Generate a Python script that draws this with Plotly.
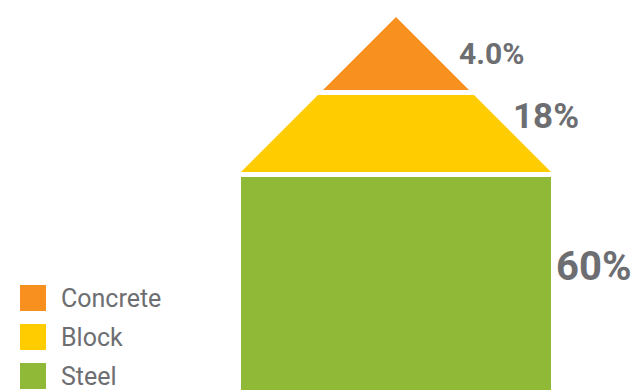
import plotly.graph_objects as go

# ---- data ----
categories = ["Concrete", "Block", "Steel"]
values = [4.0, 18, 60]
value_labels = ["4.0%", "18%", "60%"]
colors = ["#f7901e", "#ffcc00", "#8fb936"]

W, H = 634, 390
TEXT = "#6d6e71"
FONT = "Liberation Sans Narrow, Arial Narrow, Roboto, sans-serif"

# house geometry (pixel-like coordinate system)
cx = 396
apex = 17
layer_bounds = [(apex, 90), (95, 172), (177, 392)]  # top/bottom of each layer
half_body = 155

def layer_poly(i):
    top, bot = layer_bounds[i]
    if i < 2:  # roof parts: 45-degree slope from apex
        ht = top - apex
        hb = bot - apex
        xs = [cx - ht, cx + ht, cx + hb, cx - hb, cx - ht]
        ys = [top, top, bot, bot, top]
    else:
        xs = [cx - half_body, cx + half_body, cx + half_body, cx - half_body, cx - half_body]
        ys = [top, top, bot, bot, top]
    return xs, ys

fig = go.Figure()
for i, cat in enumerate(categories):
    xs, ys = layer_poly(i)
    fig.add_trace(go.Scatter(x=xs, y=ys, fill="toself", fillcolor=colors[i],
                             mode="lines", line=dict(width=0, color=colors[i]),
                             name=cat, showlegend=False, hoverinfo="name"))

# value labels
label_pos = [(457, 53, 30), (511, 116, 35), (554, 266, 40)]
for (x, y, sz), lab in zip(label_pos, value_labels):
    fig.add_annotation(x=x, y=y, text=f"<b>{lab}</b>", showarrow=False,
                       xanchor="left", yanchor="middle",
                       font=dict(family=FONT, size=sz, color=TEXT))

# legend (manual)
leg_y = [298, 337, 376]
fig.add_trace(go.Scatter(x=[33] * 3, y=leg_y, mode="markers",
                         marker=dict(symbol="square", size=26, color=colors,
                                     line=dict(width=0)),
                         showlegend=False, hoverinfo="skip"))
for y, cat in zip(leg_y, categories):
    fig.add_annotation(x=59, y=y, text=cat, showarrow=False,
                       xanchor="left", yanchor="middle",
                       font=dict(family=FONT, size=25, color=TEXT))

fig.update_layout(
    width=W, height=H,
    margin=dict(l=0, r=0, t=0, b=0),
    paper_bgcolor="white", plot_bgcolor="white",
    xaxis=dict(range=[0, W], visible=False, fixedrange=True),
    yaxis=dict(range=[H, 0], visible=False, fixedrange=True),
    showlegend=False,
)

fig.write_html("out.html")
